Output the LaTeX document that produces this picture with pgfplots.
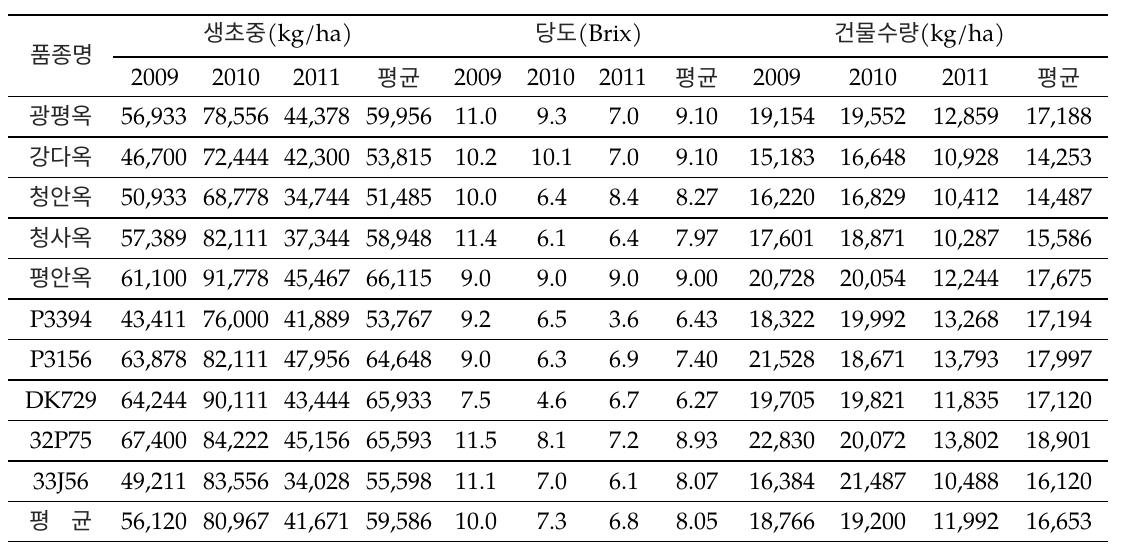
\documentclass[border=0pt]{standalone}
\usepackage{fontspec}
\usepackage{pgfplots}
\usepackage{pgfplotstable}
\pgfplotsset{compat=1.18}
\setmainfont{TeX Gyre Pagella}
\newfontfamily\krfont{Noto Sans CJK KR}
\DeclareRobustCommand\kr{\krfont\fontsize{23}{27}\selectfont\color{black!85}}

% rows: baseline y, variety, fresh yield 09/10/11/mean, Brix 09/10/11/mean, dry matter 09/10/11/mean
\pgfplotstableread{
y name a b c d e f g h i j k l
124.5 \kr{}광평옥 56,933 78,556 44,378 59,956 11.0 9.3 7.0 9.10 19,154 19,552 12,859 17,188
165.0 \kr{}강다옥 46,700 72,444 42,300 53,815 10.2 10.1 7.0 9.10 15,183 16,648 10,928 14,253
205.5 \kr{}청안옥 50,933 68,778 34,744 51,485 10.0 6.4 8.4 8.27 16,220 16,829 10,412 14,487
246.0 \kr{}청사옥 57,389 82,111 37,344 58,948 11.4 6.1 6.4 7.97 17,601 18,871 10,287 15,586
286.5 \kr{}평안옥 61,100 91,778 45,467 66,115 9.0 9.0 9.0 9.00 20,728 20,054 12,244 17,675
327.0 P3394 43,411 76,000 41,889 53,767 9.2 6.5 3.6 6.43 18,322 19,992 13,268 17,194
367.5 P3156 63,878 82,111 47,956 64,648 9.0 6.3 6.9 7.40 21,528 18,671 13,793 17,997
408.0 DK729 64,244 90,111 43,444 65,933 7.5 4.6 6.7 6.27 19,705 19,821 11,835 17,120
448.5 32P75 67,400 84,222 45,156 65,593 11.5 8.1 7.2 8.93 22,830 20,072 13,802 18,901
489.0 33J56 49,211 83,556 34,028 55,598 11.1 7.0 6.1 8.07 16,384 21,487 10,488 16,120
529.5 \kr{}평\hspace{0.9em}균 56,120 80,967 41,671 59,586 10.0 7.3 6.8 8.05 18,766 19,200 11,992 16,653
}\data

\begin{document}
\begin{tikzpicture}
\begin{axis}[
    width=1123pt, height=558pt, scale only axis,
    xmin=0, xmax=1123, ymin=0, ymax=558, y dir=reverse,
    axis line style={draw=none}, ticks=none, clip=false,
    txt/.style={draw=none, mark=none, nodes near coords={\pgfplotspointmeta},
        point meta=explicit symbolic, nodes near coords align={center},
        every node near coord/.append style={anchor=base, inner sep=0pt,
            font=\fontsize{24}{28}\selectfont, text=black}},
    rule/.style={black, line width=1.2pt, mark=none, unbounded coords=jump},
]
% rules
\addplot[rule] coordinates {
    (8,15) (1108,15) (nan,nan)
    (113,57) (1108,57) (nan,nan)
    (8,96.5) (1108,96.5) (nan,nan)
    (8,137) (1108,137) (nan,nan)
    (8,177.5) (1108,177.5) (nan,nan)
    (8,218) (1108,218) (nan,nan)
    (8,258.5) (1108,258.5) (nan,nan)
    (8,299) (1108,299) (nan,nan)
    (8,339.5) (1108,339.5) (nan,nan)
    (8,380) (1108,380) (nan,nan)
    (8,420.5) (1108,420.5) (nan,nan)
    (8,461) (1108,461) (nan,nan)
    (8,501.5) (1108,501.5) (nan,nan)
    (8,541.5) (1108,541.5)
};
% header
\addplot[txt] coordinates {
    (62,63) [\kr 품종명]
    (278,41) [{\kr 생초중}(kg/ha)]
    (589,41) [{\kr 당도}(Brix)]
    (920,41) [{\kr 건물수량}(kg/ha)]
    (155,85) [2009] (236,85) [2010] (317,85) [2011] (399,86) [\kr 평균]
    (478,85) [2009] (551,85) [2010] (623,85) [2011] (697,86) [\kr 평균]
    (777,85) [2009] (873,85) [2010] (966,85) [2011] (1059,86) [\kr 평균]
};
% body
\addplot[txt] table[x expr=61, y=y, meta=name] {\data};
\addplot[txt] table[x expr=154, y=y, meta=a] {\data};
\addplot[txt] table[x expr=236, y=y, meta=b] {\data};
\addplot[txt] table[x expr=317, y=y, meta=c] {\data};
\addplot[txt] table[x expr=399, y=y, meta=d] {\data};
\addplot[txt] table[x expr=476, y=y, meta=e] {\data};
\addplot[txt] table[x expr=552, y=y, meta=f] {\data};
\addplot[txt] table[x expr=624, y=y, meta=g] {\data};
\addplot[txt] table[x expr=697, y=y, meta=h] {\data};
\addplot[txt] table[x expr=782, y=y, meta=i] {\data};
\addplot[txt] table[x expr=873, y=y, meta=j] {\data};
\addplot[txt] table[x expr=966, y=y, meta=k] {\data};
\addplot[txt] table[x expr=1059, y=y, meta=l] {\data};
\end{axis}
\end{tikzpicture}
\end{document}
